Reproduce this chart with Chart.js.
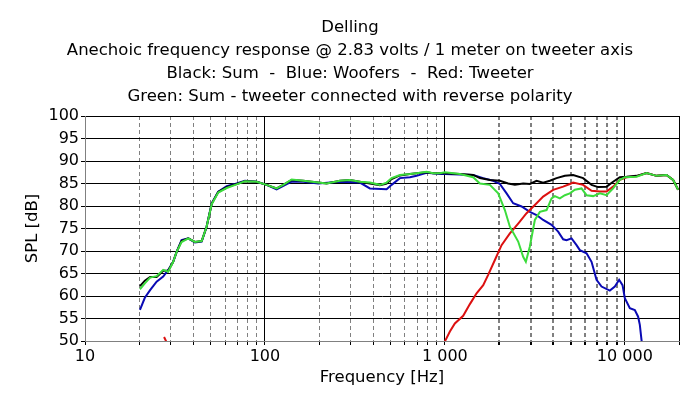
<!DOCTYPE html>
<html>
<head>
<meta charset="utf-8">
<script src="https://cdn.jsdelivr.net/npm/chart.js@4/dist/chart.umd.min.js"></script>
<style>
html,body{margin:0;padding:0;background:#fff;}
#wrap{width:700px;height:399px;}
</style>
</head>
<body>
<div id="wrap"><canvas id="c" width="700" height="399"></canvas></div>
<script>
// ---- Data ----
const titleLines = [
  'Delling',
  'Anechoic frequency response @ 2.83 volts / 1 meter on tweeter axis',
  'Black: Sum  -  Blue: Woofers  -  Red: Tweeter',
  'Green: Sum - tweeter connected with reverse polarity'
];
const xTickValues = [10,20,30,40,50,60,70,80,90,100,200,300,400,500,600,700,800,900,1000,2000,3000,4000,5000,6000,7000,8000,9000,10000,20000];
const xLabelValues = [10,100,1000,10000];
const yMin = 50, yMax = 100, yStep = 5;

// Black: Sum
const sumFreq = [20.2,21.5,23,25,27.2,29,30.9,32.3,34.4,37.5,40.8,44.5,47.4,50.6,55,61.3,69.6,77.4,89.9,102.2,116.1,126.4,140.7,163.3,197.8,220.2,261.1,296.6,337.1,383.1,435.5,474.4,505.7,562.3,639,696,791,861,938,1000,1212,1436,1565,1778,2021,2247,2449,2723,2966,3232,3517,3831,4174,4642,5162,5866,6531,7109,7913,8610,9380,10219,11614,13203,15006,17053,18549,19780];
const sumDb = [62.2,63.4,64.2,64.2,65.6,65.6,67.6,69.8,72.2,72.8,72.0,72.2,75.4,80.5,83.1,84.2,84.9,85.5,85.4,84.7,83.9,84.7,85.8,85.6,85.2,85.0,85.6,85.8,85.4,85.0,84.6,85.0,86.0,86.8,87.1,87.3,87.5,87.3,87.3,87.3,87.1,86.9,86.2,85.8,85.6,85.0,84.7,85.0,84.9,85.6,85.2,85.6,86.2,86.7,86.9,86.2,84.7,84.2,84.3,85.4,86.4,86.5,86.7,87.3,86.7,86.9,85.8,83.6];

// Blue: Woofers
const wooferFreq = [20.2,21.5,23,25,27.2,29,30.9,32.3,34.4,37.5,40.8,44.5,47.4,50.6,55,61.3,69.6,77.4,89.9,102.2,116.1,140.7,163.3,197.8,261.1,337.1,383.1,474.4,505.7,562.3,639,696,791,938,1000,1436,1633,1855,2021,2202,2396,2668,2966,3232,3517,3915,4260,4542,4744,5057,5391,5623,6127,6531,6962,7422,8254,8799,9297,9710,10000,10661,11364,11854,12115,12382,12500];
const wooferDb = [56.9,59.6,61.3,63.2,64.3,65.8,67.6,69.8,72.4,72.8,71.9,72.1,75.4,80.6,83.2,84.4,85.0,85.6,85.4,84.7,83.7,85.4,85.4,85.0,85.4,85.2,83.9,83.7,84.7,86.2,86.4,86.7,87.4,87.1,87.1,86.9,86.2,85.6,84.9,82.8,80.6,79.9,78.7,78.0,76.9,75.8,74.3,72.6,72.4,72.8,71.3,70.2,69.5,67.6,63.6,62.1,61.2,62.1,63.6,62.4,59.5,57.3,56.9,55.4,53.6,50.2,49.0];

// Red: Tweeter (null separates the two visible pieces)
const tweeterFreq = [27.5,28.5,500,1000,1066,1136,1264,1377,1500,1633,1740,1896,2065,2297,2555,2844,3232,3517,3996,4542,4948,5162,5866,6531,7262,7913,8610,9380,10219,11614,13203,15006,17053,18549,19780];
const tweeterDb = [50.9,49.6,null,49.9,52.1,53.9,55.6,58.2,60.6,62.4,64.7,68.0,71.3,73.9,76.1,78.4,80.6,82.1,83.6,84.3,84.9,85.2,84.7,83.4,83.2,83.2,84.3,85.8,86.4,86.6,87.3,86.7,86.9,85.8,83.6];

// Green: Sum with tweeter reversed
const reverseFreq = [20.2,21.5,23,25,27.2,29,30.9,32.3,34.4,37.5,40.8,44.5,47.4,50.6,55,61.3,69.6,77.4,89.9,102.2,116.1,126.4,140.7,163.3,197.8,220.2,261.1,296.6,337.1,383.1,435.5,474.4,505.7,562.3,639,696,791,861,938,1000,1212,1436,1565,1778,1978,2154,2297,2555,2723,2818,2966,3162,3372,3673,3915,4084,4354,4642,4948,5275,5747,6127,6666,7262,7913,8610,9380,10000,11614,13203,15006,17053,18549,19780];
const reverseDb = [61.5,62.8,64.1,64.4,65.8,65.4,67.6,69.8,72.0,72.8,72.0,72.2,75.4,80.4,83.0,84.0,84.8,85.5,85.4,84.7,83.9,84.7,85.9,85.6,85.2,85.0,85.6,85.8,85.4,85.2,84.7,85.2,86.2,86.9,87.1,87.3,87.6,87.3,87.3,87.5,87.1,86.4,85.0,84.7,82.8,79.1,75.4,72.1,68.7,67.6,71.0,76.9,78.7,79.1,81.7,82.2,81.7,82.4,82.8,83.6,83.9,82.4,82.2,82.8,82.4,83.9,85.8,86.4,86.5,87.3,86.7,86.9,85.8,83.6];

// ---- Chart ----
function pts(f, v){ return f.map((x,i)=>({x:x, y:v[i]})); }
function fmtThousands(v){ return String(Math.round(v)).replace(/\B(?=(\d{3})+(?!\d))/g,' '); }
const isDecade = v => [10,100,1000,10000].includes(v);

const tickFont = {family:'"DejaVu Sans", Verdana, sans-serif', size:16, weight:'normal'};
const titleFont = {family:'"DejaVu Sans", sans-serif', size:16.5, weight:'normal'};

new Chart(document.getElementById('c'), {
  type:'line',
  data:{
    datasets:[
      {label:'Green', data:pts(reverseFreq, reverseDb), borderColor:'#3cdc3c', order:0},
      {label:'Black', data:pts(sumFreq, sumDb), borderColor:'#000000', order:1},
      {label:'Red', data:pts(tweeterFreq, tweeterDb), borderColor:'#dc1010', order:2, spanGaps:false},
      {label:'Blue', data:pts(wooferFreq, wooferDb), borderColor:'#0a0ab4', order:3}
    ]
  },
  options:{
    responsive:false,
    animation:false,
    events:[],
    layout:{padding:{left:0,right:0,top:0,bottom:0}},
    elements:{line:{borderWidth:2, tension:0}, point:{radius:0}},
    plugins:{
      legend:{display:false},
      tooltip:{enabled:false},
      title:{display:true, text:titleLines, color:'#000', font:Object.assign({lineHeight:'23px'}, titleFont), padding:{top:16,bottom:8}}
    },
    scales:{
      x:{
        type:'logarithmic', min:10, max:20000,
        afterBuildTicks:(s)=>{ s.ticks = xTickValues.map(v=>({value:v})); },
        afterFit:(s)=>{ s.height = 58; },
        ticks:{autoSkip:false, maxRotation:0, minRotation:0, padding:2, color:'#000', font:tickFont,
          callback:(v)=> xLabelValues.includes(v) ? fmtThousands(v) : ''},
        grid:{
          drawOnChartArea:true, drawTicks:true, tickLength:4, tickColor:'#000',
          color:(c)=>{ const v=c.tick&&c.tick.value; if(v===10) return '#808080'; if(isDecade(v)||v===20000) return '#000'; return '#808080'; },
          lineWidth:(c)=>{ const v=c.tick&&c.tick.value; if(v>=2000&&v<=9000) return 2; return 1; }
        },
        border:{display:true, color:'#808080', width:1,
          dash:(c)=>{ const v=c.tick&&c.tick.value; if(v===undefined||isDecade(v)||v===20000) return []; return [4,3]; }},
        title:{display:true, text:'Frequency [Hz]', color:'#000', font:titleFont, padding:{top:0,bottom:11}}
      },
      y:{
        min:yMin, max:yMax,
        afterBuildTicks:(s)=>{ const t=[]; for(let v=yMin; v<=yMax; v+=yStep) t.push({value:v}); s.ticks=t; },
        afterFit:(s)=>{ s.width = 85; },
        ticks:{stepSize:yStep, padding:2, color:'#000', font:tickFont},
        grid:{drawTicks:true, tickLength:4, tickColor:'#000', lineWidth:1,
          color:(c)=> (c.tick&&c.tick.value===50) ? '#808080' : '#000'},
        border:{display:true, color:'#808080', width:1},
        title:{display:true, text:'SPL [dB]', color:'#000', font:titleFont, padding:{top:23,bottom:0}}
      },
      yRightSpacer:{
        position:'right', min:yMin, max:yMax, display:true,
        afterFit:(s)=>{ s.width = 21; },
        ticks:{display:false},
        grid:{display:false, drawOnChartArea:false},
        border:{display:false}
      }
    }
  }
});
</script>
</body>
</html>
